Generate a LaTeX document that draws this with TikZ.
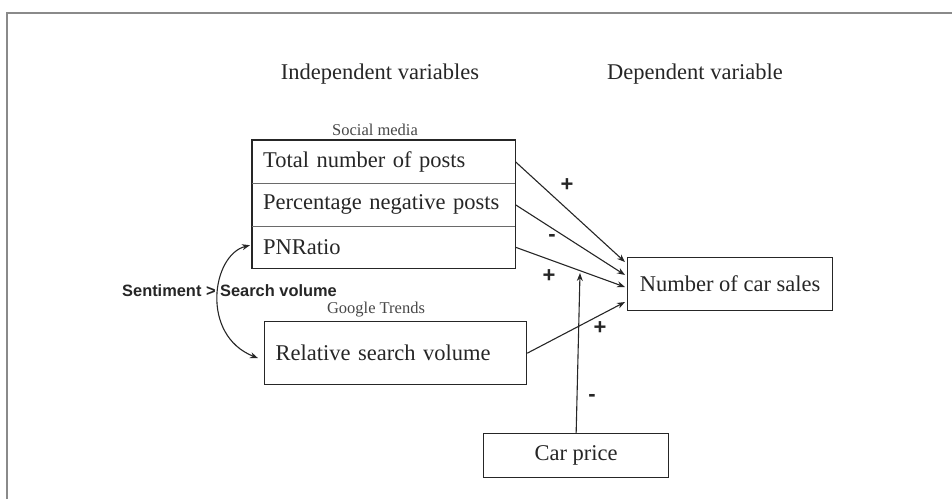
\documentclass[tikz,border=0pt]{standalone}
\usepackage{fontspec}
\setmainfont{Liberation Serif}
\setsansfont{Liberation Sans}
\usetikzlibrary{arrows.meta,calc}
\definecolor{ink}{HTML}{262626}
\definecolor{frame}{HTML}{8A8A8A}
\definecolor{divider}{HTML}{6A6A6A}
\tikzset{
  x=1pt,y=-1pt,
  big/.style={font=\fontsize{22.5}{26}\selectfont, text=ink},
  small/.style={font=\fontsize{16.5}{19}\selectfont, text=ink!85},
  sign/.style={font=\sffamily\bfseries\fontsize{22}{24}\selectfont, text=ink, inner sep=0pt},
  rowbox/.style={big, anchor=north west, minimum width=263pt, minimum height=43pt,
     inner xsep=11pt, inner ysep=0pt, text width=241pt, align=left},
  varbox/.style={big, draw=ink, line width=1.3pt, inner sep=0pt},
  link/.style={draw=ink, line width=1.1pt, -{Stealth[length=8pt,width=6pt]}},
}
\begin{document}
\begin{tikzpicture}
\useasboundingbox (0,0) rectangle (952,499);
\draw[frame, line width=2pt] (7,499) -- (7,13) -- (952,13);

\node[big] (hind) at (380,74) {Independent variables};
\node[big] (hdep) at (695,74) {Dependent variable};

\node[small] (lsoc) at (375,130) {Social media};
\node[rowbox] (r1) at (252,140) {Total number of posts};
\node[rowbox] (r2) at (252,183) {Percentage negative posts};
\node[rowbox, minimum height=42pt] (r3) at (252,226) {PNRatio};
\draw[ink, line width=1.3pt] (r1.north west) rectangle (r3.south east);
\draw[divider, line width=0.9pt] (r1.south west) -- (r1.south east);
\draw[divider, line width=0.9pt] (r2.south west) -- (r2.south east);

\node[small] (lgoo) at (376,310) {Google Trends};
\node[varbox, minimum width=262pt, minimum height=63pt, anchor=north west,
      text width=240pt, inner xsep=11pt, align=left] (goo) at (264,321) {Relative search volume};

\node[varbox, minimum width=205pt, minimum height=53pt, anchor=north west] (sales) at (627,257) {Number of car sales};
\node[varbox, minimum width=185pt, minimum height=44pt, anchor=north west] (price) at (483,433) {Car price};

\draw[link] (r1.east) -- ($(sales.north west)+(-2,5)$);
\draw[link] (r2.east) -- ($(sales.north west)+(-2,18)$);
\draw[link] (r3.east) -- ($(sales.north west)+(-2,30)$);
\draw[link] (goo.east) -- ($(sales.north west)+(-2,45)$);
\coordinate (ptip) at (580,273);
\draw[link] (price.north) -- (ptip);

\draw[draw=ink, line width=1.1pt, {Stealth[length=8pt,width=6pt]}-{Stealth[length=8pt,width=6pt]}]
  ($(r3.west)+(-2,-2)$) .. controls (212,255) and (200,335) .. ($(goo.west)+(-6,5)$);

\node[font=\sffamily\bfseries\fontsize{16.4}{19}\selectfont, text=ink, inner sep=0pt, anchor=west] (sent) at (122,291) {Sentiment > Search volume};

\node[sign] (s1) at (567,185) {+};
\node[sign] (s2) at (552,238) {-};
\node[sign] (s3) at (549,276) {+};
\node[sign] (s4) at (600,328) {+};
\node[sign] (s5) at (592,398) {-};
\end{tikzpicture}
\end{document}
